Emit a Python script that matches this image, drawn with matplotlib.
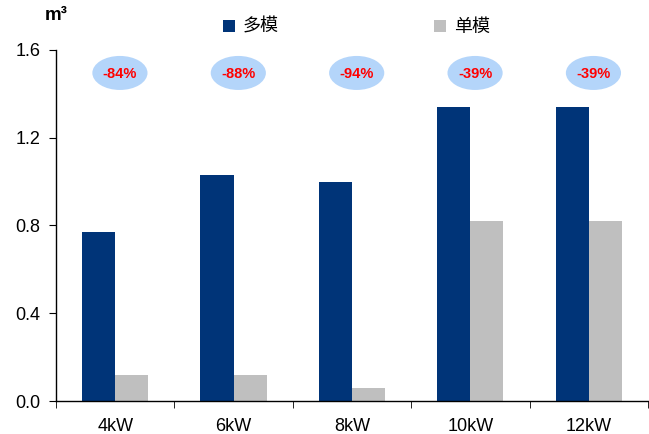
"""
多模与单模体积对比柱状图
"""
import matplotlib
matplotlib.use('Agg')
import matplotlib.pyplot as plt
from matplotlib.patches import Ellipse
from matplotlib.ticker import FixedLocator

plt.rcParams['font.family'] = ['Liberation Sans', 'Noto Sans CJK SC', 'DejaVu Sans']

# 数据
categories = ['4kW', '6kW', '8kW', '10kW', '12kW']
multi_mod = [0.77, 1.03, 1.00, 1.34, 1.34]
single_mod = [0.12, 0.12, 0.06, 0.82, 0.82]
reduction = ['-84%', '-88%', '-94%', '-39%', '-39%']
series_names = ['多模', '单模']

c_dark = '#003478'
c_grey = '#BFBFBF'
c_oval = '#B4D5FA'

fig = plt.figure(figsize=(6.49, 4.34), dpi=100)
ax = fig.add_axes([0.0863, 0.076, 0.912, 0.809])

x = list(range(len(categories)))
w = 0.28
ax.bar([i - w / 2 for i in x], multi_mod, w, color=c_dark, label=series_names[0])
ax.bar([i + w / 2 for i in x], single_mod, w, color=c_grey, label=series_names[1])

# 降幅标注
for i, txt in enumerate(reduction):
    ax.add_patch(Ellipse((i + 0.04, 1.495), 0.466, 0.155, facecolor=c_oval,
                         edgecolor='none', zorder=3))
    ax.text(i + 0.04, 1.492, txt, ha='center', va='center', color='#FF0000',
            fontsize=10.5, fontweight='bold', zorder=4)

ax.set_xlim(-0.5, 4.5)
ax.set_ylim(0, 1.6)
ax.set_yticks([0, 0.4, 0.8, 1.2, 1.6])
ax.set_yticklabels(['0.0', '0.4', '0.8', '1.2', '1.6'])
ax.set_xticks(x)
ax.set_xticklabels(categories)
ax.xaxis.set_minor_locator(FixedLocator([-0.5, 0.5, 1.5, 2.5, 3.5, 4.5]))
ax.tick_params(axis='x', which='major', length=0, pad=12, labelsize=13)
ax.tick_params(axis='x', which='minor', length=5, direction='out')
ax.tick_params(axis='y', length=5, direction='out', labelsize=13, pad=6)
ax.spines['top'].set_visible(False)
ax.spines['right'].set_visible(False)
ax.spines['left'].set_linewidth(1.0)
ax.spines['bottom'].set_linewidth(1.0)

fig.text(56 / 649, 1 - 15 / 434, 'm³', ha='center', va='center',
         fontsize=13.5, fontweight='bold')

fig.legend(loc='center', bbox_to_anchor=(0.549, 0.938), ncol=2, frameon=False,
           handlelength=0.65, handleheight=0.65, handletextpad=0.45,
           columnspacing=8.6, prop={'family': 'Noto Sans CJK SC', 'size': 13})

plt.savefig('out.png', dpi=100)
